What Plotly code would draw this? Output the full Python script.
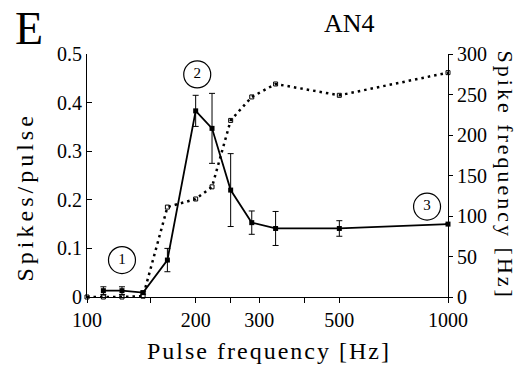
import plotly.graph_objects as go

# Pulse frequencies (Hz) for spikes/pulse series
pulse_freq = [111, 125, 143, 167, 200, 222, 250, 286, 333, 500, 1000]
spikes_per_pulse = [0.013, 0.013, 0.009, 0.076, 0.383, 0.347, 0.220, 0.153, 0.141, 0.141, 0.150]
spikes_per_pulse_err = [0.008, 0.008, 0.003, 0.024, 0.032, 0.072, 0.075, 0.024, 0.035, 0.016, 0.0]

# Spike frequency (Hz) series, right axis
sf_pulse_freq = [100, 111, 125, 143, 167, 200, 222, 250, 286, 333, 500, 1000]
spike_frequency = [0, 0, 0, 1, 111, 121, 136, 218, 247, 263, 249, 277]

# Circled labels
label_x = [125, 202, 875]
label_y = [0.076, 0.458, 0.186]
label_text = ["1", "2", "3"]

x_tickvals = [100, 150, 200, 250, 300, 400, 500, 1000]
x_ticktext = ["100", "", "200", "", "300", "", "500", "1000"]
y_tickvals = [0, 0.1, 0.2, 0.3, 0.4, 0.5]
y_ticktext = ["0", "0.1", "0.2", "0.3", "0.4", "0.5"]
y2_tickvals = [0, 50, 100, 150, 200, 250, 300]

SERIF = "Liberation Serif"

fig = go.Figure()

fig.add_trace(go.Scatter(
    x=sf_pulse_freq, y=spike_frequency, yaxis="y2", mode="lines+markers",
    line=dict(color="black", width=2.5, dash="2.5px,4px"),
    marker=dict(symbol="square-open", size=4, color="black", line=dict(width=1, color="black")),
    cliponaxis=False, showlegend=False,
))

fig.add_trace(go.Scatter(
    x=pulse_freq, y=spikes_per_pulse, mode="lines+markers",
    line=dict(color="black", width=1.8),
    marker=dict(symbol="square", size=5, color="black"),
    error_y=dict(type="data", array=spikes_per_pulse_err, color="black", thickness=1, width=3),
    cliponaxis=False, showlegend=False,
))

fig.add_trace(go.Scatter(
    x=label_x, y=label_y, mode="markers+text", text=label_text,
    textposition="middle center",
    textfont=dict(family=SERIF, size=15, color="#000000"),
    marker=dict(symbol="circle-open", size=27, color="#000000", line=dict(width=1.2, color="#000000")),
    cliponaxis=False, showlegend=False,
))

fig.update_layout(
    template="none",
    width=521, height=368,
    margin=dict(l=87, r=73, t=54, b=71),
    paper_bgcolor="white", plot_bgcolor="white",
    font=dict(family=SERIF, color="black", size=20),
    xaxis=dict(
        type="log", range=[2, 3], tickvals=x_tickvals, ticktext=x_ticktext,
        showline=True, linecolor="black", linewidth=1.2, mirror=False,
        ticks="outside", ticklen=5, tickwidth=1, tickcolor="black",
        showgrid=False, zeroline=False,
        tickfont=dict(family=SERIF, size=20, color="black"),
    ),
    yaxis=dict(
        range=[0, 0.5], tickvals=y_tickvals, ticktext=y_ticktext,
        showline=True, linecolor="black", linewidth=1.2,
        ticks="inside", ticklen=5, tickwidth=1, tickcolor="black",
        showgrid=False, zeroline=False,
        tickfont=dict(family=SERIF, size=20, color="black"),
    ),
    yaxis2=dict(
        range=[0, 300], tickvals=y2_tickvals, overlaying="y", side="right",
        showline=True, linecolor="black", linewidth=1.2,
        ticks="outside", ticklen=4, tickwidth=1, tickcolor="black",
        showgrid=False, zeroline=False,
        tickfont=dict(family=SERIF, size=20, color="black"),
    ),
    annotations=[
        dict(text="E", xref="paper", yref="paper", x=-0.205, y=1.103,
             xanchor="left", yanchor="middle", showarrow=False,
             font=dict(family=SERIF, size=46, color="black")),
        dict(text="AN4", xref="paper", yref="paper", x=0.7258, y=1.1235,
             xanchor="center", yanchor="middle", showarrow=False,
             font=dict(family=SERIF, size=26, color="black")),
        dict(text="Spikes/pulse", xref="paper", yref="paper", x=-0.1717, y=0.4095,
             xanchor="center", yanchor="middle", showarrow=False, textangle=-90,
             font=dict(family=SERIF, size=24, color="black")),
        dict(text="Spike frequency [Hz]", xref="paper", yref="paper", x=1.162, y=0.502,
             xanchor="center", yanchor="middle", showarrow=False, textangle=90,
             font=dict(family=SERIF, size=22, color="black")),
        dict(text="Pulse frequency [Hz]", xref="paper", yref="paper", x=0.504, y=-0.224,
             xanchor="center", yanchor="middle", showarrow=False,
             font=dict(family=SERIF, size=24, color="black")),
    ],
)

post = """
var sp = {"Spikes/pulse": "4px", "Spike frequency [Hz]": "3px", "Pulse frequency [Hz]": "2px"};
document.querySelectorAll('text').forEach(function(t){
  var s = sp[t.textContent];
  if (s) { t.setAttribute('letter-spacing', s); }
});
"""

fig.write_html("out.html", post_script=post)
